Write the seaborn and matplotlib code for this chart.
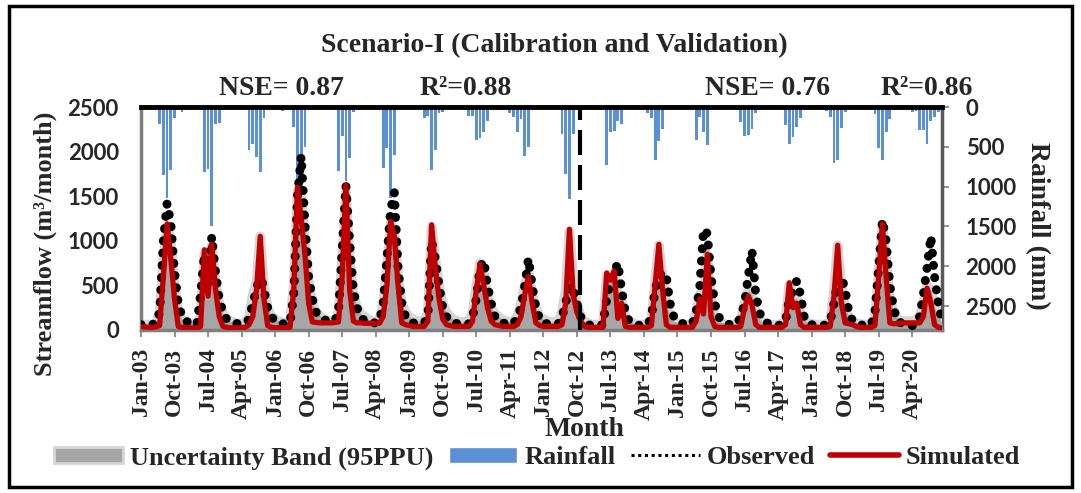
import numpy as np
import pandas as pd
import seaborn as sns
import matplotlib.pyplot as plt
from matplotlib.patches import Patch, Rectangle
from matplotlib.lines import Line2D

# monthly series Jan-2003 .. Dec-2020 (one row per year)
observed = [
    60, 50, 50, 60, 80, 200, 1000, 1420, 1200, 650, 300, 150,
    100, 80, 70, 60, 400, 850, 500, 1050, 650, 350, 200, 120,
    90, 80, 70, 70, 80, 120, 300, 450, 650, 450, 250, 150,
    100, 80, 70, 70, 80, 400, 1500, 1950, 1200, 600, 350, 200,
    150, 120, 100, 100, 100, 200, 900, 1620, 1000, 450, 250, 150,
    100, 90, 80, 80, 100, 300, 800, 1350, 1540, 700, 300, 150,
    100, 80, 70, 70, 80, 150, 1000, 800, 500, 250, 150, 100,
    80, 70, 60, 60, 70, 150, 350, 700, 780, 500, 300, 150,
    100, 80, 70, 60, 70, 150, 250, 500, 800, 500, 250, 120,
    80, 70, 60, 60, 70, 150, 300, 500, 450, 300, 150, 100,
    60, 50, 50, 50, 60, 350, 550, 650, 750, 450, 200, 100,
    80, 60, 50, 50, 60, 150, 450, 600, 650, 600, 300, 150,
    100, 80, 60, 60, 70, 200, 500, 1130, 1080, 600, 300, 150,
    100, 80, 60, 60, 70, 150, 300, 600, 890, 400, 200, 100,
    80, 60, 50, 50, 60, 100, 350, 450, 550, 400, 150, 80,
    60, 50, 50, 50, 60, 100, 300, 550, 600, 450, 200, 100,
    80, 60, 50, 50, 60, 200, 700, 1233, 1000, 500, 250, 100,
    80, 60, 50, 50, 60, 150, 400, 700, 1050, 600, 300, 100,
]
simulated = [
    40, 35, 30, 30, 35, 50, 600, 1190, 800, 350, 40, 30,
    25, 25, 25, 25, 40, 900, 380, 960, 450, 150, 40, 30,
    25, 25, 25, 25, 30, 60, 150, 450, 1050, 350, 50, 30,
    25, 25, 25, 25, 30, 450, 1600, 1250, 850, 300, 90, 85,
    80, 80, 80, 80, 85, 90, 600, 1620, 450, 100, 80, 80,
    75, 75, 75, 75, 75, 150, 500, 1220, 1050, 500, 80, 60,
    50, 40, 40, 40, 40, 100, 1180, 700, 350, 120, 60, 50,
    40, 40, 40, 40, 40, 100, 450, 740, 500, 250, 100, 60,
    50, 40, 40, 40, 40, 60, 150, 400, 600, 300, 80, 50,
    40, 40, 40, 40, 40, 60, 300, 1130, 400, 200, 100, 40,
    30, 30, 30, 30, 30, 640, 560, 660, 130, 300, 40, 30,
    30, 30, 30, 30, 30, 50, 500, 960, 450, 60, 30, 30,
    30, 30, 30, 30, 30, 100, 350, 180, 850, 150, 40, 30,
    30, 30, 30, 30, 30, 40, 250, 380, 280, 60, 30, 30,
    30, 30, 30, 30, 30, 60, 530, 250, 300, 60, 30, 30,
    30, 30, 30, 30, 30, 40, 380, 950, 300, 80, 70, 60,
    40, 30, 30, 30, 30, 50, 600, 1190, 600, 80, 70, 70,
    80, 80, 80, 80, 80, 80, 150, 470, 300, 60, 30, 20,
]
ppu_upper = [
    60, 60, 60, 60, 70, 200, 800, 1150, 1000, 500, 200, 120,
    100, 80, 70, 70, 150, 850, 600, 950, 550, 300, 180, 120,
    100, 80, 70, 70, 80, 150, 400, 550, 1050, 500, 250, 150,
    120, 100, 80, 80, 100, 500, 1550, 1500, 1000, 550, 300, 200,
    160, 130, 110, 100, 110, 200, 800, 1550, 800, 400, 250, 180,
    150, 120, 100, 100, 120, 300, 700, 1200, 1100, 600, 300, 200,
    150, 120, 100, 100, 100, 200, 1150, 800, 500, 300, 200, 150,
    120, 100, 90, 90, 100, 200, 500, 750, 650, 400, 250, 180,
    150, 120, 100, 90, 100, 150, 300, 500, 650, 400, 250, 150,
    120, 100, 90, 90, 100, 200, 450, 1100, 600, 300, 150, 100,
    80, 60, 60, 60, 70, 600, 550, 650, 350, 350, 150, 100,
    80, 60, 60, 60, 70, 120, 550, 950, 600, 300, 150, 100,
    80, 60, 60, 60, 70, 200, 400, 300, 850, 350, 150, 100,
    80, 60, 60, 60, 70, 120, 300, 450, 400, 200, 120, 80,
    70, 60, 60, 60, 70, 120, 500, 350, 350, 200, 120, 80,
    70, 60, 60, 60, 70, 100, 450, 950, 500, 250, 150, 100,
    80, 70, 60, 60, 70, 150, 650, 1150, 800, 350, 200, 130,
    100, 100, 100, 100, 110, 150, 300, 500, 450, 250, 150, 80,
]
rainfall = [
    10, 5, 5, 20, 30, 210, 850, 1140, 790, 140, 0, 60,
    5, 10, 5, 10, 20, 810, 780, 1500, 210, 200, 10, 10,
    5, 5, 10, 10, 15, 540, 470, 630, 820, 140, 5, 5,
    5, 5, 50, 10, 10, 250, 980, 900, 500, 10, 5, 5,
    5, 5, 5, 10, 15, 800, 370, 930, 640, 60, 5, 5,
    5, 5, 5, 5, 10, 770, 520, 1140, 600, 30, 5, 5,
    5, 5, 5, 10, 140, 110, 790, 540, 80, 60, 5, 5,
    5, 5, 5, 5, 110, 110, 410, 390, 320, 180, 5, 5,
    5, 40, 5, 70, 125, 320, 155, 610, 505, 20, 5, 5,
    5, 5, 5, 5, 20, 340, 840, 1150, 340, 5, 60, 5,
    5, 5, 5, 10, 20, 730, 310, 300, 180, 215, 5, 5,
    5, 5, 5, 5, 80, 140, 660, 430, 280, 10, 5, 5,
    5, 5, 5, 10, 20, 410, 130, 310, 480, 20, 5, 5,
    5, 5, 5, 5, 20, 190, 370, 350, 270, 80, 5, 5,
    5, 5, 5, 5, 20, 230, 470, 380, 245, 140, 5, 5,
    5, 5, 5, 10, 50, 120, 700, 660, 260, 60, 5, 5,
    5, 5, 5, 5, 20, 90, 510, 660, 310, 150, 5, 5,
    5, 5, 10, 60, 50, 290, 290, 470, 180, 130, 60, 5,
]
tick_labels = ["Jan-03", "Oct-03", "Jul-04", "Apr-05", "Jan-06", "Oct-06",
               "Jul-07", "Apr-08", "Jan-09", "Oct-09", "Jul-10", "Apr-11",
               "Jan-12", "Oct-12", "Jul-13", "Apr-14", "Jan-15", "Oct-15",
               "Jul-16", "Apr-17", "Jan-18", "Oct-18", "Jul-19", "Apr-20"]
split_month = 117.8  # end of calibration period (month index)

df = pd.DataFrame({"month": np.arange(len(observed)), "obs": observed,
                   "sim": simulated, "ppu": ppu_upper, "rain": rainfall})

sns.set_theme(style="white")
plt.rcParams["font.family"] = ["Liberation Serif", "DejaVu Serif"]
serif_bold = dict(family="Liberation Serif", weight="bold")
sans_bold = dict(family="Lato", weight="bold", size=16)

W, H = 1081, 493
fig = plt.figure(figsize=(W / 100, H / 100), dpi=100)
ax = fig.add_axes([141 / W, 1 - 330 / H, (942 - 141) / W, (330 - 107) / H])
ax2 = ax.twinx()
ax.set_zorder(ax2.get_zorder() + 1)
ax.patch.set_visible(False)

# rainfall bars hanging from top
ax2.bar(df["month"], df["rain"], width=0.75, color="#5B8FD6", linewidth=0)
ax2.set_ylim(2800, 0)
ax2.set_yticks(range(0, 2501, 500))
ax2.set_yticklabels([str(v) for v in range(0, 2501, 500)], fontdict=sans_bold)
ax2.tick_params(axis="y", direction="out", length=5, width=1.2, color="#7F7F7F", pad=12)
for s in ["top", "bottom", "left"]:
    ax2.spines[s].set_visible(False)
ax2.spines["right"].set_color("#595959")
ax2.spines["right"].set_linewidth(2.5)

# uncertainty band (soft light edge + dark fill)
ax.plot(df["month"], df["ppu"], color="#D6D6D6", lw=7, zorder=1, solid_joinstyle="round")
ax.fill_between(df["month"], 0, df["ppu"], color="#A6A6A6", lw=0, zorder=1.5)

sns.lineplot(data=df, x="month", y="obs", ax=ax, color="black", lw=6.5,
             linestyle=(0, (0.01, 1.35)), dash_capstyle="round", zorder=3)
sns.lineplot(data=df, x="month", y="sim", ax=ax, color="#C00000", lw=3.8, zorder=4)

ax.axvline(split_month, color="black", lw=3, dashes=(6, 2.4), zorder=5)

ax.set_xlim(0, len(observed) - 1)
ax.set_ylim(0, 2500)
ax.set_xticks(range(0, len(observed), 9))
ax.set_xticklabels(tick_labels, rotation=90, fontdict=dict(serif_bold, size=17))
ax.set_yticks(range(0, 2501, 500))
ax.set_yticklabels([str(v) for v in range(0, 2501, 500)], fontdict=sans_bold)
ax.tick_params(axis="x", direction="out", length=5, width=1.2, color="#7F7F7F", pad=8, bottom=True)
ax.tick_params(axis="y", length=0, pad=16)
ax.set_xlabel("")
ax.set_ylabel("")
ax.spines["top"].set_color("black")
ax.spines["top"].set_linewidth(3.5)
for s in ["left", "bottom"]:
    ax.spines[s].set_color("#7F7F7F")
    ax.spines[s].set_linewidth(2.5)
ax.spines["right"].set_visible(False)

fig.text(0.5125, 0.907, "Scenario-I (Calibration and Validation)", ha="center", va="center", size=20, **serif_bold)
fig.text(0.260, 0.8215, "NSE= 0.87", ha="center", va="center", size=20, **serif_bold)
fig.text(0.431, 0.8215, "R²=0.88", ha="center", va="center", size=20, **serif_bold)
fig.text(0.7097, 0.8215, "NSE= 0.76", ha="center", va="center", size=20, **serif_bold)
fig.text(0.8576, 0.8215, "R²=0.86", ha="center", va="center", size=20, **serif_bold)
fig.text(0.541, 0.128, "Month", ha="center", va="center", size=20, **serif_bold)
fig.text(0.042, 0.505, "Streamflow (m³/month)", ha="center", va="center", rotation=90, size=19, **serif_bold)
fig.text(0.960, 0.5416, "Rainfall (mm)", ha="center", va="center", rotation=-90, size=20, **serif_bold)

handles = [Patch(facecolor="#A6A6A6", edgecolor="#D6D6D6", linewidth=2),
           Patch(facecolor="#5B8FD6"),
           Line2D([], [], color="black", lw=2.2, linestyle=(0, (1, 1.2))),
           Line2D([], [], color="#C00000", lw=4)]
labels = ["Uncertainty Band (95PPU)", "Rainfall", "Observed", "Simulated"]
fig.legend(handles, labels, loc="center", bbox_to_anchor=(0.497, 0.071), ncol=4,
           frameon=False, prop=dict(family="Liberation Serif", weight="bold", size=19),
           handlelength=2.6, handleheight=0.6, handletextpad=0.25, columnspacing=0.6)

fig.add_artist(Rectangle((0.008, 0.012), 0.984, 0.975, transform=fig.transFigure,
                         fill=False, edgecolor="black", linewidth=2.5))

fig.savefig("out.png", dpi=100)
